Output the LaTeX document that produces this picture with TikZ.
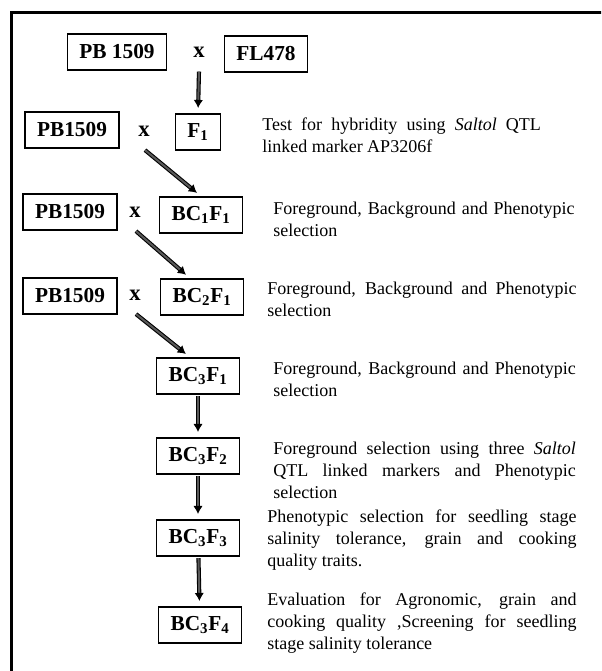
\documentclass[tikz,border=0pt]{standalone}
\usepackage{fontspec}
\setmainfont{Liberation Serif}
\usetikzlibrary{arrows.meta}
\hyphenpenalty=10000
\tolerance=9999

\begin{document}
\begin{tikzpicture}[x=0.75pt, y=-0.75pt,
    genbox/.style={rectangle, draw, line width=1.1pt, minimum height=27pt, inner xsep=9pt,
      font=\fontsize{16}{19}\selectfont\bfseries},
    cross/.style={minimum height=27pt, inner sep=0pt, font=\fontsize{17}{19}\selectfont\bfseries},
    note/.style={anchor=west, inner sep=0pt, align=justify,
      font=\fontsize{13.5}{16.5}\selectfont},
    genarrow/.style={double=black!65, double distance=1.5pt, line width=0.8pt,
      -{Latex[length=6pt, width=7pt]}, shorten <=1pt, shorten >=4pt}]

    \useasboundingbox (0,0) rectangle (601,671);
    \begin{scope}
      \clip (0,0) rectangle (601,671);
      \draw[line width=2.25pt] (11.5,12.5) rectangle (640,700);
    \end{scope}

    % parents and crosses
    \node[genbox] (pb_a) at (117,52) {PB 1509};
    \node[cross] (x_a) at (199,52) {x};
    \node[genbox] (fl) at (266,54) {FL478};

    \node[genbox] (pb_b) at (72,130) {PB1509};
    \node[cross] (x_b) at (144,131) {x};
    \node[genbox] (f1) at (198,132) {F\textsubscript{1}};

    \node[genbox] (pb_c) at (70,212) {PB1509};
    \node[cross] (x_c) at (135,212) {x};
    \node[genbox] (bc1f1) at (201,215) {BC\textsubscript{1}F\textsubscript{1}};

    \node[genbox] (pb_d) at (70,296) {PB1509};
    \node[cross] (x_d) at (135,295) {x};
    \node[genbox] (bc2f1) at (202,297) {BC\textsubscript{2}F\textsubscript{1}};

    % selfing generations
    \node[genbox] (bc3f1) at (198,376) {BC\textsubscript{3}F\textsubscript{1}};
    \node[genbox] (bc3f2) at (198,456) {BC\textsubscript{3}F\textsubscript{2}};
    \node[genbox] (bc3f3) at (198,538) {BC\textsubscript{3}F\textsubscript{3}};
    \node[genbox] (bc3f4) at (200,625) {BC\textsubscript{3}F\textsubscript{4}};

    % selection notes
    \node[note, text width=209pt] (n_f1) at (262,135)
      {Test for hybridity using \textit{Saltol} QTL\linebreak linked marker AP3206f};
    \node[note, text width=226pt] (n_bc1f1) at (273,219)
      {Foreground, Background and Phenotypic\linebreak selection};
    \node[note, text width=232pt] (n_bc2f1) at (267,299)
      {Foreground, Background and Phenotypic\linebreak selection};
    \node[note, text width=227pt] (n_bc3f1) at (273,379)
      {Foreground, Background and Phenotypic\linebreak selection};
    \node[note, text width=227pt] (n_bc3f2) at (273,470)
      {Foreground selection using three \textit{Saltol}\linebreak QTL linked markers and Phenotypic\linebreak selection};
    \node[note, text width=232pt] (n_bc3f3) at (267,540)
      {Phenotypic selection for seedling stage\linebreak salinity tolerance, grain and cooking\linebreak quality traits.};
    \node[note, text width=232pt] (n_bc3f4) at (267,623)
      {Evaluation for Agronomic, grain and\linebreak cooking quality ,Screening for seedling\linebreak stage salinity tolerance};

    % arrows
    \draw[genarrow] (x_a.south) -- (f1.north);
    \draw[genarrow] (x_b.south) -- (bc1f1.north);
    \draw[genarrow] (x_c.south) -- ([xshift=-9pt]bc2f1.north);
    \draw[genarrow] (x_d.south) -- ([xshift=-6pt]bc3f1.north);
    \draw[genarrow] (bc3f1) -- (bc3f2);
    \draw[genarrow] (bc3f2) -- (bc3f3);
    \draw[genarrow] (bc3f3) -- (bc3f4);

\end{tikzpicture}
\end{document}
